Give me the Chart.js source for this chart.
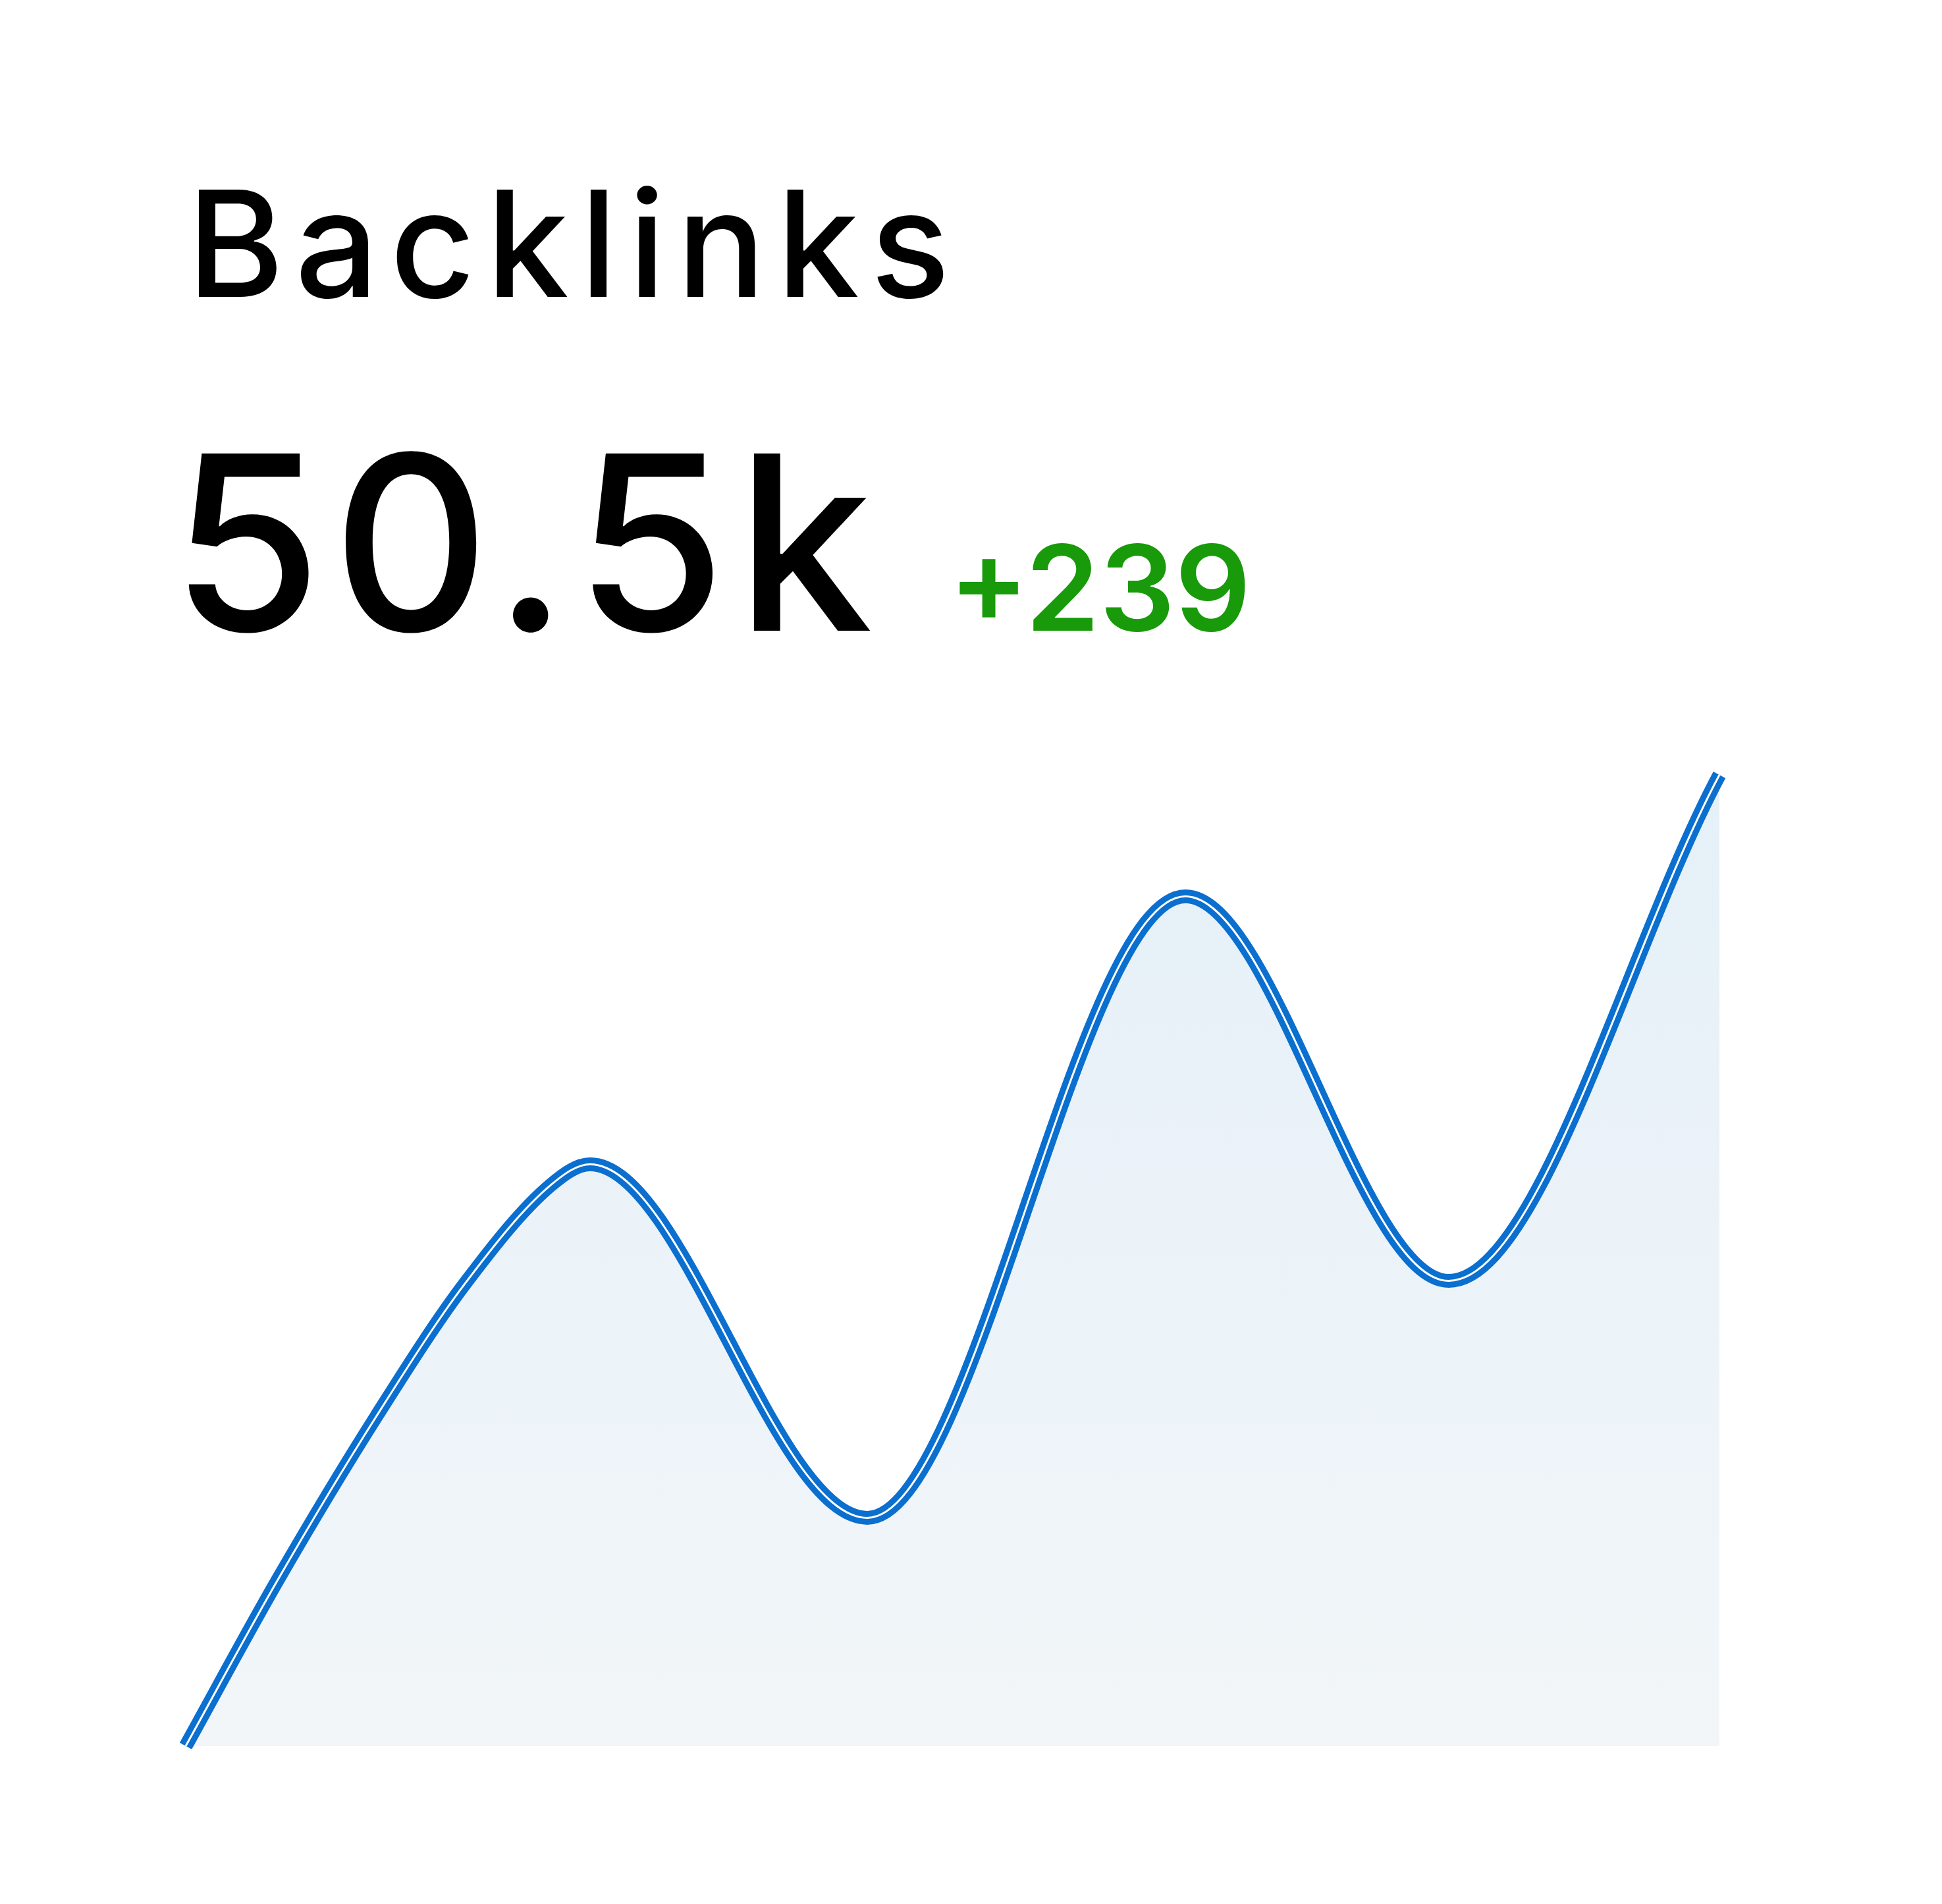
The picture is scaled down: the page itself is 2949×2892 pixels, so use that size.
<!DOCTYPE html>
<html lang="en">
<head>
  <meta charset="UTF-8" />
  <title>Backlinks</title>
  <script src="https://cdn.jsdelivr.net/npm/chart.js@4.4.0/dist/chart.umd.min.js"></script>
  <style>
    html, body { margin: 0; padding: 0; background: #ffffff; }
    #wrap { position: relative; width: 2949px; height: 2892px; }
    canvas { position: absolute; left: 0; top: 0; }
    .txt { position: absolute; font-family: Inter, "Open Sans", sans-serif; line-height: 1; white-space: nowrap; }
    #title { left: 284px; top: 258px; font-size: 224px; font-weight: 500; color: #000; letter-spacing: 17px; }
    #value { left: 260px; top: 639px; font-size: 370px; font-weight: 500; color: #000; letter-spacing: 16px; }
    #delta { left: 1441px; top: 803px; font-size: 180px; font-weight: 600; color: #189a0a; }
  </style>
</head>
<body>
<div id="wrap">
  <canvas id="backlinksChart" width="2949" height="2892"></canvas>
  <div class="txt" id="title">Backlinks</div>
  <div class="txt" id="value">50.5k</div>
  <div class="txt" id="delta">+239</div>
</div>
<script>
  // points: position along x (0..100) and value (0..100)
  const xs = [0, 6.0, 12.45, 18.2, 23.83, 26.36, 44.44, 65.18, 82.35, 100];
  const ys = [0, 17.1, 34.0, 47.6, 57.8, 59.9, 23.5, 87.5, 47.9, 100];

  const points = xs.map((x, i) => ({ x: x, y: ys[i] }));

  function fillGradient(context) {
    const area = context.chart.chartArea;
    if (!area) return "rgba(232, 242, 249, 1)";
    const g = context.chart.ctx.createLinearGradient(0, area.top, 0, area.bottom);
    g.addColorStop(0, "rgba(229, 240, 248, 1)");
    g.addColorStop(1, "rgba(242, 246, 249, 1)");
    return g;
  }

  const config = {
    type: "line",
    data: {
      datasets: [
        {
          label: "inner",
          data: points,
          borderColor: "#ffffff",
          borderWidth: 3,
          borderCapStyle: "butt",
          pointRadius: 0,
          cubicInterpolationMode: "monotone",
          fill: false,
          clip: false,
          order: 0,
        },
        {
          label: "Backlinks",
          data: points,
          borderColor: "#0a6fcf",
          borderWidth: 21,
          borderCapStyle: "butt",
          pointRadius: 0,
          cubicInterpolationMode: "monotone",
          fill: "origin",
          backgroundColor: fillGradient,
          clip: false,
          order: 1,
        },
      ],
    },
    options: {
      responsive: false,
      animation: false,
      devicePixelRatio: 1,
      layout: { padding: { left: 282, right: 338, top: 1177, bottom: 240 } },
      plugins: {
        legend: { display: false },
        tooltip: { enabled: false },
        title: { display: false },
      },
      scales: {
        x: { type: "linear", min: 0, max: 100, display: false },
        y: { min: 0, max: 100, display: false },
      },
    },
  };

  new Chart(document.getElementById("backlinksChart"), config);
</script>
</body>
</html>
